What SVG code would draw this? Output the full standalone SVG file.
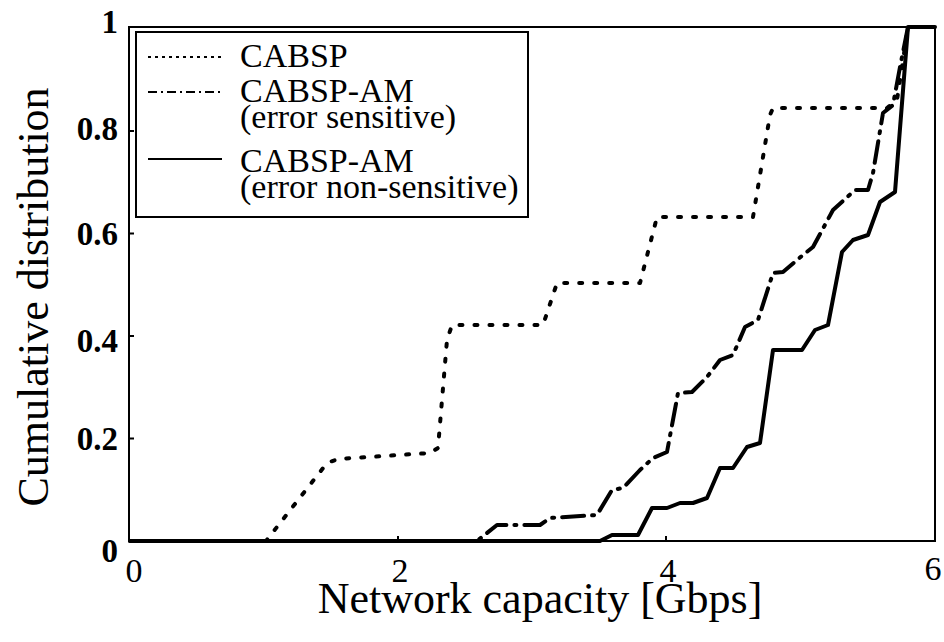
<svg xmlns="http://www.w3.org/2000/svg" width="944" height="642" viewBox="0 0 944 642">
<style>
.t{font-family:"Liberation Serif","Times New Roman",serif;fill:#000}
.yt{font-size:33px;font-weight:bold;text-anchor:end}
.xt{font-size:34px;text-anchor:middle}
.ttl{font-size:44px;text-anchor:middle}
.lg{font-size:34px}
.frame{fill:none;stroke:#000;stroke-width:2}
.c{fill:none;stroke:#000;stroke-width:4;stroke-linejoin:round}
.dot{stroke-dasharray:3 12;stroke-linecap:round}
.dd{stroke-dasharray:22 8 2 8;stroke-linecap:round}
.ls{fill:none;stroke:#000;stroke-width:2}
</style>
<rect width="944" height="642" fill="#fff"/>
<g id="axes">
<rect class="frame" x="129" y="27" width="806" height="514"/>
<path class="frame" d="M129,438.5h5M129,336h5M129,233.5h5M129,131h5M398,541v-5M666,541v-5"/>
</g>
<g id="ticklabels" class="t">
<text class="yt" x="118" y="562">0</text>
<text class="yt" x="118" y="450">0.2</text>
<text class="yt" x="118" y="352">0.4</text>
<text class="yt" x="118" y="245">0.6</text>
<text class="yt" x="118" y="140">0.8</text>
<text class="yt" x="118" y="33">1</text>
<text class="xt" x="134" y="582">0</text>
<text class="xt" x="400" y="582">2</text>
<text class="xt" x="668" y="582">4</text>
<text class="xt" x="933" y="580">6</text>
</g>
<g id="titles" class="t">
<text class="ttl" x="540" y="613">Network capacity [Gbps]</text>
<text class="ttl" transform="translate(48,297) rotate(-90)">Cumulative distribution</text>
</g>
<g id="connectors">
<path id="cabsp" class="c dot" d="M130,541 L266,541 L327,463 L338,459 L430,453 L438,448 L447,340 L452,325 L543,325 L557,283 L640,283 L657,217 L753,217 L770,115 L773,108 L887,108 L897,100 L908,27 L935,27"/>
<path id="cabsp-am-es" class="c dd" d="M130,541 L477,541 L497,525 L540,525 L550,518 L597,515 L612,490 L623,488 L640,470 L653,458 L667,452 L678,393 L692,392 L707,377 L720,360 L733,355 L745,327 L758,320 L773,273 L783,272 L803,255 L813,247 L833,210 L855,190 L868,190 L873,173 L883,113 L893,105 L900,67 L908,27 L935,27"/>
<path id="cabsp-am-ns" class="c" d="M130,541 L600,541 L612,535 L638,535 L652,508 L667,508 L680,503 L693,503 L707,498 L720,468 L733,468 L747,447 L760,443 L773,350 L802,350 L815,330 L828,325 L842,252 L853,240 L868,235 L880,202 L895,192 L908,27 L935,27"/>
</g>
<g id="legend">
<rect x="136" y="32" width="392" height="185" fill="#fff" stroke="#000" stroke-width="2"/>
<line class="ls" x1="148" y1="57" x2="222" y2="57" stroke-dasharray="3 4"/>
<line class="ls" x1="148" y1="92" x2="222" y2="92" stroke-dasharray="9 4 2 4"/>
<line class="ls" x1="148" y1="159" x2="222" y2="159"/>
<g class="t lg">
<text x="240" y="67">CABSP</text>
<text x="240" y="102">CABSP-AM</text>
<text x="240" y="128">(error sensitive)</text>
<text x="240" y="172">CABSP-AM</text>
<text x="240" y="198">(error non-sensitive)</text>
</g>
</g>
</svg>
